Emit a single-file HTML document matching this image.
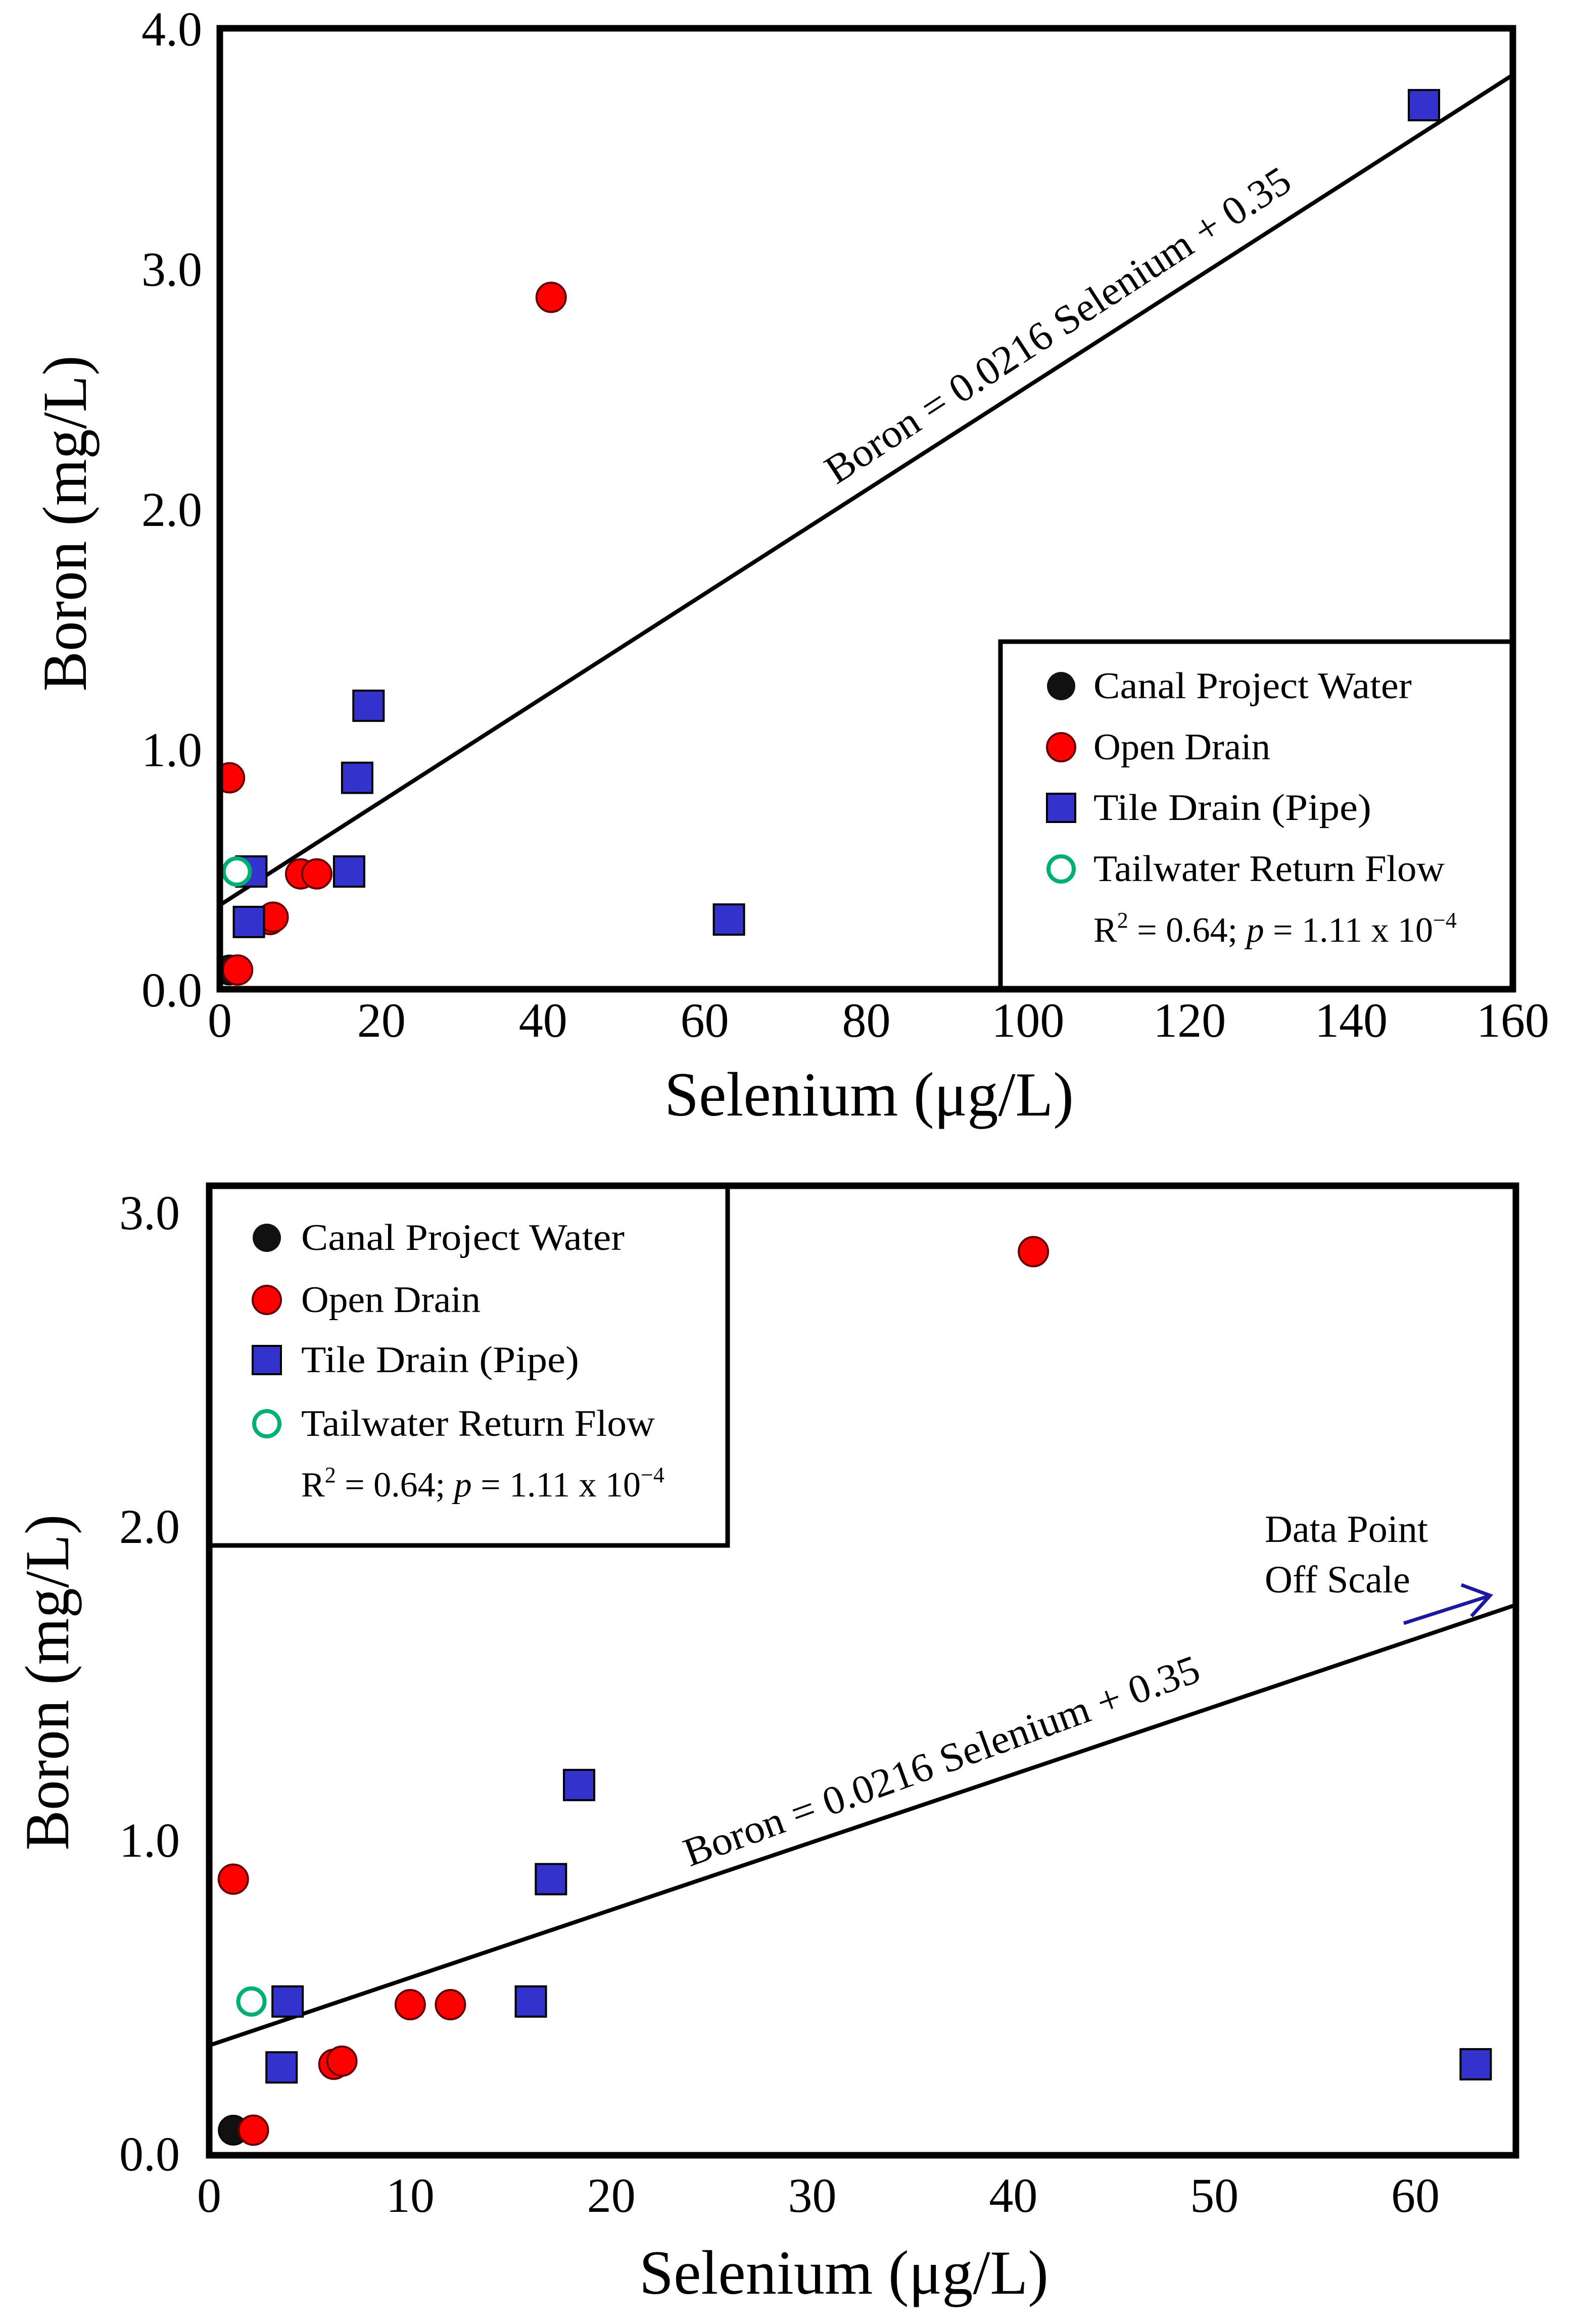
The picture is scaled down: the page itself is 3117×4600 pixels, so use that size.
<!DOCTYPE html>
<html><head><meta charset="utf-8"><style>
html,body{margin:0;padding:0;background:#fff;}
svg{display:block;font-family:"Liberation Serif",serif;}
</style></head>
<body>
<svg id="fig" xmlns="http://www.w3.org/2000/svg" width="3117" height="4600" viewBox="0 0 3117 4600"></svg>
<script>
// ---- data ----
const canalX = [1.2];
const canalY = [0.08];
const openX = [1.2, 2.2, 6.2, 6.6, 10, 12, 41];
const openY = [0.88, 0.08, 0.29, 0.30, 0.48, 0.48, 2.88];
const tileX = [3.6, 3.9, 16, 17, 18.4, 63, 149];
const tileY = [0.28, 0.49, 0.49, 0.88, 1.18, 0.29, 3.68];
const tailX = [2.1];
const tailY = [0.49];
const regSlope = 0.0216;
const regIntercept = 0.35;
const topXTicks = [0, 20, 40, 60, 80, 100, 120, 140, 160];
const topYTicks = [0.0, 1.0, 2.0, 3.0, 4.0];
const botXTicks = [0, 10, 20, 30, 40, 50, 60];
const botYTicks = [0.0, 1.0, 2.0, 3.0];
const legendLabels = ["Canal Project Water", "Open Drain", "Tile Drain (Pipe)", "Tailwater Return Flow"];

const NS = "http://www.w3.org/2000/svg";
const svg = document.getElementById('fig');
function mk(tag, attrs, parent, text){
  const e = document.createElementNS(NS, tag);
  for (const k in attrs) e.setAttribute(k, attrs[k]);
  if (text !== undefined) e.textContent = text;
  (parent || svg).appendChild(e);
  return e;
}

function drawChart(cfg){
  const g = mk('g', {});
  
  
  const sx = v => cfg.L + (v - cfg.x0) / (cfg.x1 - cfg.x0) * (cfg.R - cfg.L);
  const sy = v => cfg.B - (v - cfg.y0) / (cfg.y1 - cfg.y0) * (cfg.B - cfg.T);
  const clipId = cfg.name + '-clip';
  const defs = mk('defs', {}, g);
  const cp = mk('clipPath', {id: clipId}, defs);
  mk('rect', {x: cfg.L, y: cfg.T, width: cfg.R - cfg.L, height: cfg.B - cfg.T}, cp);

  const rl = mk('line', {x1: sx(cfg.x0), y1: sy(regSlope*cfg.x0+regIntercept), x2: sx(cfg.x1), y2: sy(regSlope*cfg.x1+regIntercept), stroke:'#000', 'stroke-width':8, 'clip-path':`url(#${clipId})`}, g);
  
  

  const pts = mk('g', {'clip-path':`url(#${clipId})`}, g);
  
  
  for (let i=0;i<canalX.length;i++){
    const c = mk('circle', {cx: sx(canalX[i]), cy: sy(canalY[i]), r: 29, fill:'#111', stroke:'#000', 'stroke-width':3}, pts);
    
    
  }
  for (let i=0;i<openX.length;i++){
    const c = mk('circle', {cx: sx(openX[i]), cy: sy(openY[i]), r: 29, fill:'#ff0000', stroke:'#600', 'stroke-width':4}, pts);
    
    
  }
  for (let i=0;i<tileX.length;i++){
    const c = mk('rect', {x: sx(tileX[i])-30, y: sy(tileY[i])-30, width:60, height:60, fill:'#3333cc', stroke:'#000', 'stroke-width':4}, pts);
    
    
  }
  for (let i=0;i<tailX.length;i++){
    const c = mk('circle', {cx: sx(tailX[i]), cy: sy(tailY[i]), r: 26, fill:'#fff', stroke:'#00b070', 'stroke-width':8}, pts);
    
    
  }

  const lg = mk('g', {}, g);
  
  
  mk('rect', {x: cfg.leg.x, y: cfg.leg.y, width: cfg.leg.w, height: cfg.leg.h, fill:'#fff', stroke:'#000', 'stroke-width':9}, lg);
  const ly = cfg.leg.rows;
  for (let i=0;i<legendLabels.length;i++){
    const mx = cfg.leg.mx, my = ly[i];
    let m;
    if (i===0) m = mk('circle', {cx:mx, cy:my, r:28, fill:'#111'}, lg);
    else if (i===1) m = mk('circle', {cx:mx, cy:my, r:28, fill:'#ff0000', stroke:'#600','stroke-width':4}, lg);
    else if (i===2) m = mk('rect', {x:mx-28, y:my-28, width:56, height:56, fill:'#3333cc', stroke:'#000','stroke-width':4}, lg);
    else m = mk('circle', {cx:mx, cy:my, r:25, fill:'#fff', stroke:'#00b070','stroke-width':8}, lg);
    
    
    const t = mk('text', {x: cfg.leg.tx, y: my+24, 'font-size':74, textLength: cfg.leg.tw[i], lengthAdjust:'spacingAndGlyphs'}, lg, legendLabels[i]);
    
    
  }
  const st = mk('text', {x: cfg.leg.tx, y: ly[4]+24, 'font-size':70}, lg);
  
  
  st.innerHTML = 'R<tspan dy="-28" font-size="44">2</tspan><tspan dy="28"> = 0.64; </tspan><tspan font-style="italic">p</tspan><tspan> = 1.11 x 10</tspan><tspan dy="-28" font-size="44">−4</tspan>';

  const fr = mk('rect', {x: cfg.L, y: cfg.T, width: cfg.R-cfg.L, height: cfg.B-cfg.T, fill:'none', stroke:'#000', 'stroke-width':13}, g);
  
  

  cfg.xt.forEach(v=>{
    const t = mk('text', {x: sx(v), y: cfg.B + cfg.xtOff, 'font-size':96, 'text-anchor':'middle'}, g, String(v));
    
    
  });
  cfg.yt.forEach(v=>{
    const t = mk('text', {x: cfg.L - cfg.ytOff, y: sy(v) + cfg.ytDy, 'font-size':96, 'text-anchor':'end'}, g, v.toFixed(1));
    
    
  });
  const xt = mk('text', {x: cfg.xTitle[0], y: cfg.xTitle[1], 'font-size':124, 'text-anchor':'middle', textLength:810, lengthAdjust:'spacingAndGlyphs'}, g, 'Selenium (μg/L)');
  
  
  const yt = mk('text', {x: 0, y: 0, 'font-size':124, 'text-anchor':'middle', textLength:665, lengthAdjust:'spacingAndGlyphs', transform:`translate(${cfg.yTitle[0]},${cfg.yTitle[1]}) rotate(-90)`}, g, 'Boron (mg/L)');
  
  
  const eq = mk('text', {x:0, y:0, 'font-size':80, textLength:cfg.eq[3], lengthAdjust:'spacingAndGlyphs', transform:`translate(${cfg.eq[0]},${cfg.eq[1]}) rotate(${cfg.eq[2]})`}, g, 'Boron = 0.0216 Selenium  + 0.35');
  
  
  return {sx, sy, g};
}

drawChart({name:'chart-full', L:435, R:2994, T:56, B:1958, x0:0, x1:160, y0:0, y1:4,
  xt: topXTicks, yt: topYTicks, xtOff: 94, ytOff: 35, ytDy: 34,
  xTitle:[1720, 2208], yTitle:[170, 1036],
  eq:[1655, 960, -33, 1080],
  leg:{x:1980, y:1270, w:1014, h:688, mx:2100, tx:2164, rows:[1358,1479,1599,1720,1840], tw:[630,350,550,695]}
});
drawChart({name:'chart-zoomed', L:414, R:3000, T:2347, B:4266, x0:0, x1:65, y0:0, y1:3.09,
  xt: botXTicks, yt: botYTicks, xtOff: 112, ytOff: 58, ytDy: 30,
  xTitle:[1670, 4540], yTitle:[135, 3330],
  eq:[1365, 3695, -20, 1080],
  leg:{x:414, y:2347, w:1026, h:712, mx:528, tx:596, rows:[2450,2573,2692,2818,2938], tw:[640,355,550,700]}
});
const ann = mk('g', {});


mk('text', {x:2503, y:3052, 'font-size':76}, ann, 'Data Point');
mk('text', {x:2503, y:3152, 'font-size':76}, ann, 'Off Scale');
mk('line', {x1:2778, y1:3213, x2:2947, y2:3159, stroke:'#1a1aa0', 'stroke-width':7}, ann);
mk('polyline', {points:'2892,3137 2949,3158 2912,3199', fill:'none', stroke:'#1a1aa0', 'stroke-width':7}, ann);
</script>
</body></html>
